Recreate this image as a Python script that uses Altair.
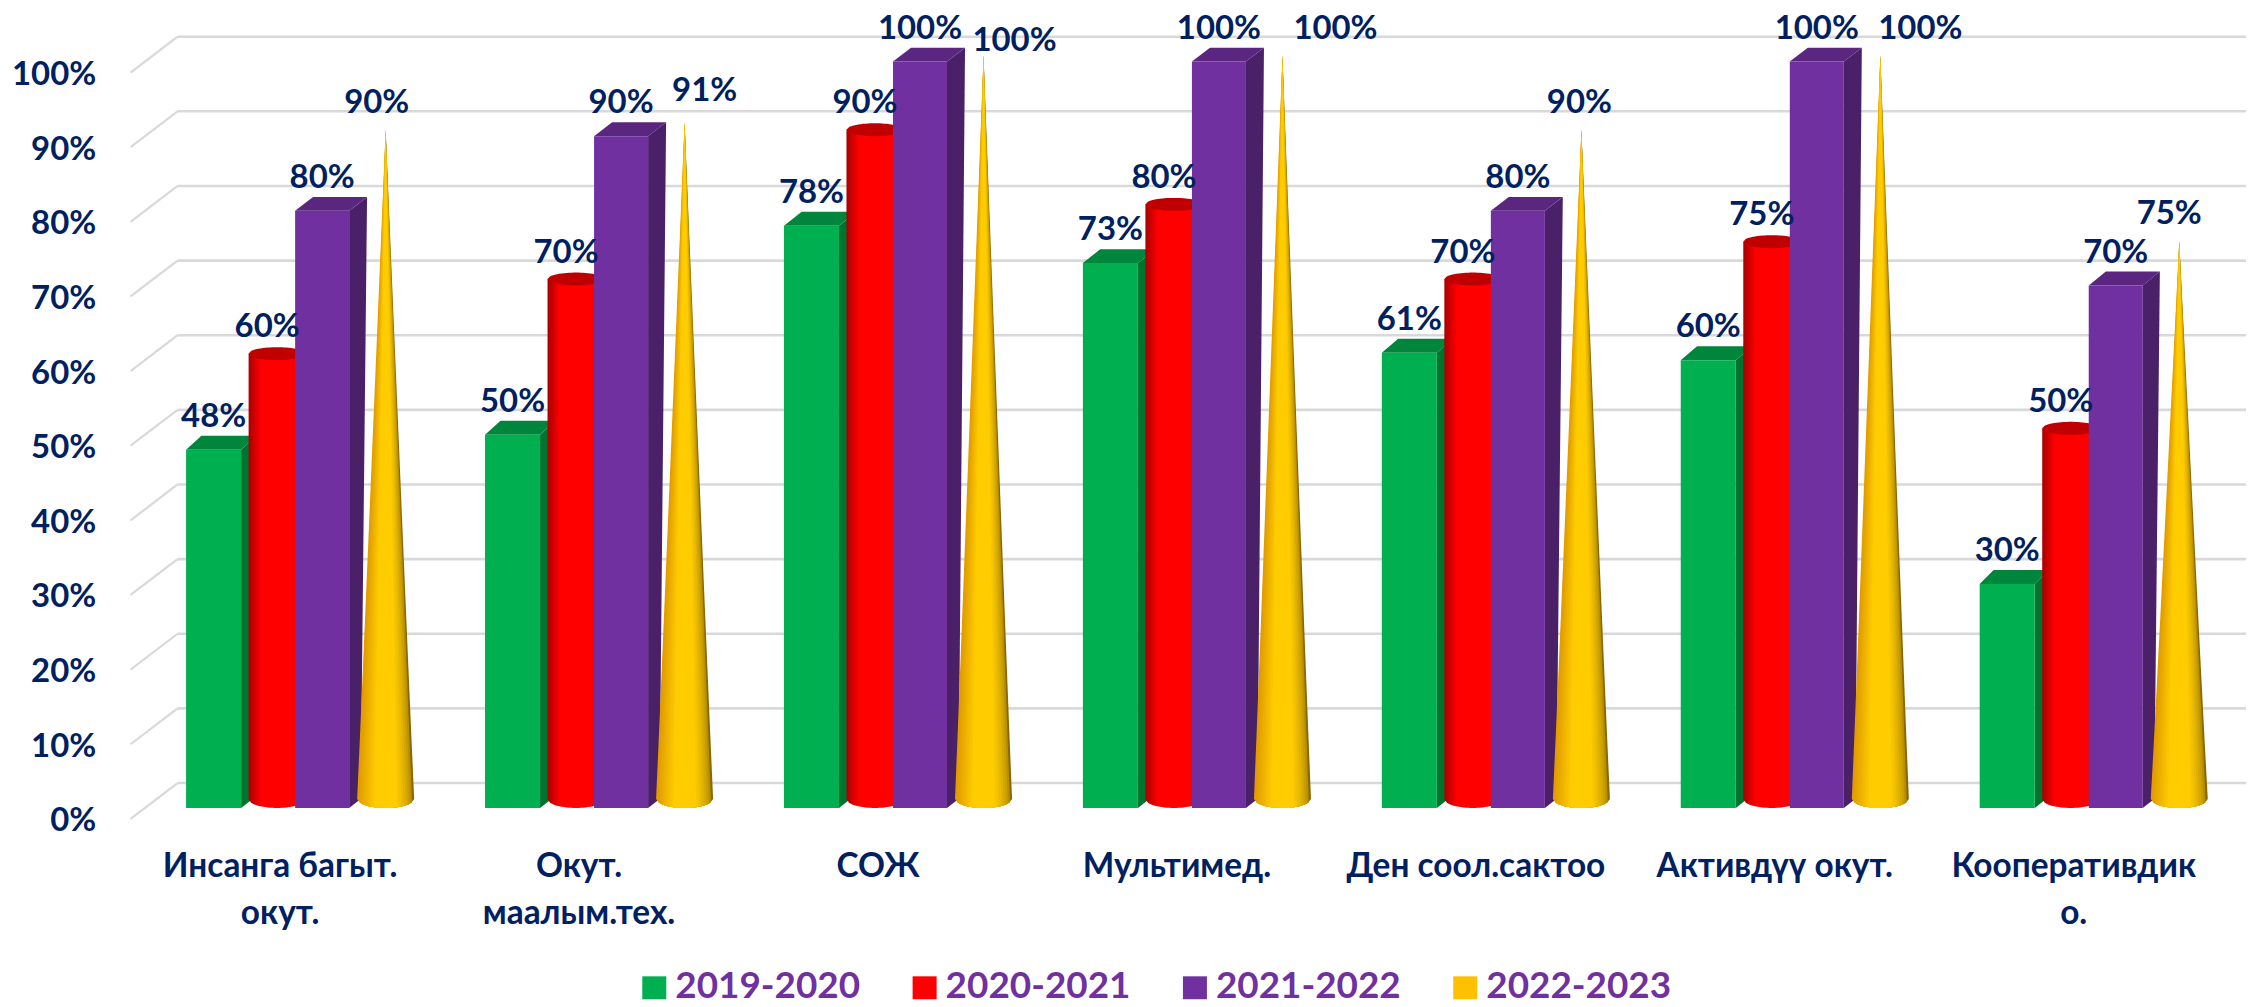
import math
import altair as alt
import pandas as pd

# ---- values
categories = [["Инсанга багыт.", "окут."], ["Окут.", "маалым.тех."], ["СОЖ"], ["Мультимед."],
              ["Ден соол.сактоо"], ["Активдүү окут."], ["Кооперативдик", "о."]]
years = ["2019-2020", "2020-2021", "2021-2022", "2022-2023"]
s2019 = [48, 50, 78, 73, 61, 60, 30]
s2020 = [60, 70, 90, 80, 70, 75, 50]
s2021 = [80, 90, 100, 100, 80, 100, 70]
s2022 = [90, 91, 100, 100, 90, 100, 75]
grid_values = list(range(0, 101, 10))
# hand-placed label offsets of the cone series (px)
cone_label_dx = [-9, 20, 31, 53, -2, 40, -10]
cone_label_dy = [27, 32, 15, 27, 27, 27, 28]

# ---- layout (page px)
W, H = 2246, 998
PX = 7.49
BASE = 809
STEP = 298.8
FONT = "Lato"
NAVY = "#002060"
PURPLE = "#7030A0"

xscale = alt.Scale(domain=[8, 2245], range=[0, W])
yscale = alt.Scale(domain=[(BASE - (8 + H)) / PX, (BASE - 8) / PX], range=[H, 0])


def u(page_y):
    """page y in value units"""
    return (BASE - page_y) / PX


def X():
    return alt.X("x:Q", scale=xscale, axis=None, title=None)


def Y(**kw):
    return alt.Y("y:Q", scale=yscale, title=None, **kw)


def area(rows, color, **mk):
    return alt.Chart(pd.DataFrame(rows)).mark_area(color=color, interpolate="linear", **mk).encode(
        x=X(), y=Y(), y2=alt.Y2("y2:Q"), detail="id:N")


def grad(stops):
    return alt.Gradient(gradient="linear", x1=0, x2=1, y1=0, y2=0,
                        stops=[alt.GradientStop(color=c, offset=o) for o, c in stops])


def mix(a, b, t):
    ca = [int(a[i:i + 2], 16) for i in (1, 3, 5)]
    cb = [int(b[i:i + 2], 16) for i in (1, 3, 5)]
    return "#" + "".join(f"{round(p + (q - p) * t):02X}" for p, q in zip(ca, cb))


# ---- box series
def box(values, x0, width, front, side, top):
    f, s, t = [], [], []
    dz = 14 / PX
    for i, v in enumerate(values):
        a = x0 + STEP * i
        b = a + width
        dt = min(18, 11.5 + 0.08 * v)
        db = 11.5
        f += [{"x": a, "y": v, "y2": 0, "id": i}, {"x": b, "y": v, "y2": 0, "id": i}]
        zb = 9 / PX
        s += [{"x": b, "y": v, "y2": 0, "id": i},
              {"x": b + db, "y": v + dz * db / dt, "y2": zb, "id": i},
              {"x": b + dt, "y": v + dz, "y2": v + dz, "id": i}]
        t += [{"x": a, "y": v, "y2": v, "id": i},
              {"x": a + dt, "y": v + dz, "y2": v, "id": i},
              {"x": b, "y": v + dz, "y2": v, "id": i},
              {"x": b + dt, "y": v + dz, "y2": v + dz, "id": i}]
    return [area(s, side), area(t, top), area(f, front)]


# ---- cylinder series
def cylinder(values, x0, radius):
    body, cap = [], []
    n = 24
    bcap, bbase = 6.5, 9
    for i, v in enumerate(values):
        cx = x0 + STEP * i + radius
        for k in range(n + 1):
            w = -1 + 2 * k / n
            r = math.sqrt(max(0, 1 - w * w))
            x = cx + w * radius
            c = v + bcap / PX
            body.append({"x": x, "y": c, "y2": u(800 + bbase * r), "id": i})
            cap.append({"x": x, "y": c + bcap * r / PX, "y2": c - bcap * r / PX, "id": i})
    return [area(body, grad([(0, "#A80000"), (0.22, "#FF0000"), (1, "#FF0000")])),
            area(cap, "#C00000")]


# ---- cone series: nested fans from dark rim to bright core
def cones(values, xc0, radius):
    out = []
    n = 9
    core = "#FFCC00"
    for k in range(n):
        t = k / (n - 1)
        f = 1 - 0.6 * t
        rows = []
        m = 20
        for i, v in enumerate(values):
            cx = xc0 + STEP * i
            tip = u(800) + v * 7.46 / PX
            for j in range(m + 1):
                w = -1 + 2 * j / m
                x = cx + w * radius * f
                lo = u(800 + 9 * math.sqrt(1 - (w * f) ** 2))
                rows.append({"x": x, "y": lo + (tip - lo) * (1 - abs(w)), "y2": lo, "id": i})
        left = mix("#E09C00", core, t)
        right = mix("#8A6800", core, t ** 0.45)
        c = grad([(0, left), (0.5, left), (0.5, right), (1, right)])
        out.append(area(rows, c))
    return out


# ---- grid with diagonal walls, and the value axis
gd = 11 / PX
back = 36 / PX
grid_h = pd.DataFrame({"x": [177.5] * len(grid_values), "x2": [2245] * len(grid_values),
                       "y": [v - gd + back for v in grid_values]})
grid_d = pd.DataFrame({"x": [130.5] * len(grid_values), "x2": [177.5] * len(grid_values),
                       "y": [v - gd for v in grid_values], "y2": [v - gd + back for v in grid_values]})
axis_layer = alt.Chart(pd.DataFrame({"x": [177.5], "y": [0]})).mark_point(opacity=0).encode(
    x=X(),
    y=Y(axis=alt.Axis(orient="left", values=grid_values, domain=False, ticks=False, grid=False,
                      labelExpr="datum.value + '%'", labelFont=FONT, labelFontSize=33,
                      labelFontWeight="bold", labelColor=NAVY, labelPadding=0, offset=-88,
                      labelOffset=13, labelBaseline="middle", labelFlush=False, labelOverlap=False,
                      labelBound=False)))
rule_h = alt.Chart(grid_h).mark_rule(color="#D9D9D9", strokeWidth=2.6).encode(
    x=X(), x2=alt.X2("x2:Q"), y=Y())
rule_d = alt.Chart(grid_d).mark_rule(color="#D9D9D9", strokeWidth=2.2).encode(
    x=X(), x2=alt.X2("x2:Q"), y=Y(), y2=alt.Y2("y2:Q"))

# ---- data labels
lab = []
for i in range(7):
    lab.append({"x": 213.5 + STEP * i, "y": s2019[i] + 33 / PX, "t": f"{s2019[i]}%"})
    lab.append({"x": 267 + STEP * i, "y": s2020[i] + 33 / PX, "t": f"{s2020[i]}%"})
    lab.append({"x": 322 + STEP * i, "y": s2021[i] + 33 / PX, "t": f"{s2021[i]}%"})
    lab.append({"x": 385.5 + STEP * i + cone_label_dx[i],
                "y": u(800) + s2022[i] * 7.46 / PX + cone_label_dy[i] / PX, "t": f"{s2022[i]}%"})
labels = alt.Chart(pd.DataFrame(lab)).mark_text(
    font=FONT, fontSize=33, fontWeight="bold", color=NAVY, baseline="middle", align="center"
).encode(x=X(), y=Y(), text="t:N")

# ---- category labels
cat = []
for i, lines in enumerate(categories):
    for j, line in enumerate(lines):
        cat.append({"x": 280 + STEP * i, "y": u(868 + 47 * j), "t": line})
cats = alt.Chart(pd.DataFrame(cat)).mark_text(
    font=FONT, fontSize=33.5, fontWeight="bold", color=NAVY, baseline="middle", align="center"
).encode(x=X(), y=Y(), text="t:N")

# ---- legend
leg_colors = ["#00B050", "#FF0000", "#7030A0", "#FFC000"]
leg = [{"x": 642 + 270.2 * i, "x2": 666 + 270.2 * i, "y": u(978), "y2": u(1001),
        "tx": 675 + 270.2 * i, "t": years[i], "c": leg_colors[i]} for i in range(4)]
leg_df = pd.DataFrame(leg)
leg_sq = alt.Chart(leg_df).mark_rect().encode(
    x=X(), x2=alt.X2("x2:Q"), y=Y(), y2=alt.Y2("y2:Q"),
    color=alt.Color("c:N", scale=None, legend=None))
leg_tx = alt.Chart(leg_df).transform_calculate(yt=str(u(989))).mark_text(
    font=FONT, fontSize=37, fontWeight="bold", color=PURPLE, align="left", baseline="middle"
).encode(x=alt.X("tx:Q", scale=xscale, axis=None, title=None),
         y=alt.Y("yt:Q", scale=yscale, title=None), text="t:N")

layers = [axis_layer, rule_h, rule_d]
layers += box(s2019, 186, 55, "#00B050", "#00742F", "#00853C")
layers += cylinder(s2020, 248.5, 28.5)
layers += box(s2021, 295, 54, "#7030A0", "#4A2068", "#5A2680")
layers += cones(s2022, 385.5, 28.5)
layers += [labels, cats, leg_sq, leg_tx]

chart = alt.layer(*layers).properties(
    width=W, height=H, padding=0,
    autosize=alt.AutoSizeParams(type="none"),
    background="white",
).configure_view(stroke=None)

chart.save("out.html", embed_options={"renderer": "svg", "actions": False})
